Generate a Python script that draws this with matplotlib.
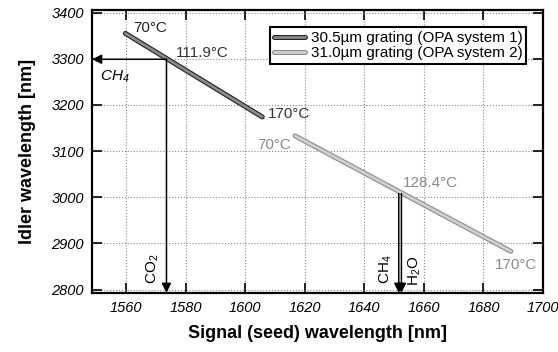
import matplotlib
matplotlib.use("Agg")
from matplotlib import pyplot as plt
import matplotlib.patheffects as pe

plt.rcParams['font.family'] = ['Liberation Sans', 'DejaVu Sans']
plt.rcParams['mathtext.default'] = 'regular'

# tuning curves (signal vs idler) for the two gratings, 70 -> 170 C
sig1 = [1559.7, 1605.7]
idl1 = [3355, 3174]
sig2 = [1616.7, 1689.2]
idl2 = [3133, 2883]
lab1 = "30.5µm grating (OPA system 1)"
lab2 = "31.0µm grating (OPA system 2)"

# gas absorption targets
ch4_sig, ch4_idl = 1573.5, 3299   # 111.9 C on system 1
h2o_sig, h2o_idl = 1652.0, 3008   # 128.4 C on system 2

xticks = [1560, 1580, 1600, 1620, 1640, 1660, 1680, 1700]
yticks = [2800, 2900, 3000, 3100, 3200, 3300, 3400]

fig = plt.figure(figsize=(5.58, 3.52), dpi=100)
ax = fig.add_axes([0.165, 0.168, 0.808, 0.804])

ax.plot(sig1, idl1, color='#8a8a8a', lw=2.0, solid_capstyle='round', label=lab1,
        path_effects=[pe.Stroke(linewidth=3.6, foreground='#222222'), pe.Normal()])
ax.plot(sig2, idl2, color='#d0d0d0', lw=2.0, solid_capstyle='round', label=lab2,
        path_effects=[pe.Stroke(linewidth=3.6, foreground='#8c8c8c'), pe.Normal()])

ymin, ymax = 2793, 3406
xmin, xmax = 1548.5, 1700

arr = dict(arrowstyle='-|>', color='black', lw=1.1, mutation_scale=14, shrinkA=0, shrinkB=0)
# CH4 idler -> left axis, CO2 signal -> bottom
ax.annotate('', xy=(xmin, ch4_idl), xytext=(ch4_sig, ch4_idl), arrowprops=arr)
ax.annotate('', xy=(ch4_sig, ymin), xytext=(ch4_sig, ch4_idl), arrowprops=arr)
# double line for CH4 / H2O
for dx in (-0.45, 0.45):
    ax.annotate('', xy=(h2o_sig + dx, ymin), xytext=(h2o_sig + dx, h2o_idl), arrowprops=arr)

fs = 11
ax.text(1562.5, 3367, '70°C', fontsize=fs, va='center', color='#222222')
ax.text(1576.6, 3312, '111.9°C', fontsize=fs, va='center', color='#333333')
ax.text(1607.5, 3180, '170°C', fontsize=fs, va='center', color='#333333')
ax.text(1615.3, 3113, '70°C', fontsize=fs, va='center', ha='right', color='#888888')
ax.text(1653.0, 3030, '128.4°C', fontsize=fs, va='center', color='#888888')
ax.text(1683.7, 2853, '170°C', fontsize=fs, va='center', color='#888888')

ax.text(1551.3, 3262, 'CH$_4$', fontsize=fs, style='italic', va='center')
ax.text(1569.0, 2844, 'CO$_2$', fontsize=fs, va='center', ha='center', rotation=90)
ax.text(1647.3, 2844, 'CH$_4$', fontsize=fs, va='center', ha='center', rotation=90)
ax.text(1656.9, 2842, 'H$_2$O', fontsize=fs, va='center', ha='center', rotation=90)

ax.set_xlim(xmin, xmax)
ax.set_ylim(ymin, ymax)
ax.set_xticks(xticks)
ax.set_yticks(yticks)
ax.set_xticklabels([str(v) for v in xticks], style='italic', fontsize=10.5)
ax.set_yticklabels([str(v) for v in yticks], style='italic', fontsize=10.5)
ax.tick_params(direction='in', length=7, width=1.2, top=True, right=True, pad=6)
ax.grid(True, ls=':', color='#888888', lw=0.8)
for s in ax.spines.values():
    s.set_linewidth(1.6)

ax.set_xlabel('Signal (seed) wavelength [nm]', fontsize=13, fontweight='bold', labelpad=7)
ax.set_ylabel('Idler wavelength [nm]', fontsize=13, fontweight='bold', labelpad=11)

leg = ax.legend(loc='upper right', fontsize=11, fancybox=False, framealpha=1,
                edgecolor='black', handlelength=2.0, borderpad=0.25, labelspacing=0.05,
                handletextpad=0.4, bbox_to_anchor=(0.98, 0.965))
leg.get_frame().set_linewidth(1.5)

fig.savefig('out.png', dpi=100)
